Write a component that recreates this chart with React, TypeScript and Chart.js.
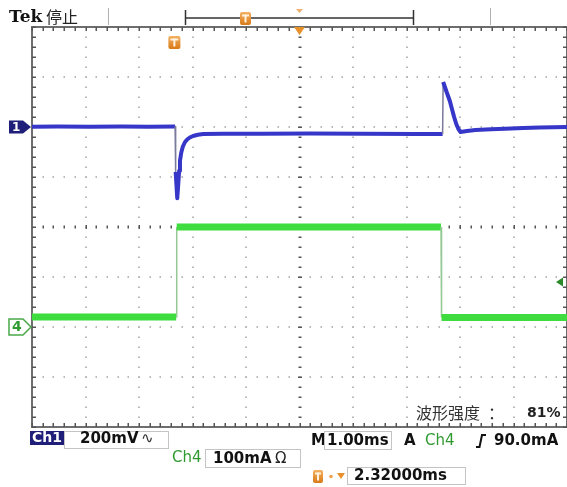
import React, { useEffect, useRef } from "react";
import { Chart, registerables } from "chart.js";
Chart.register(...registerables);

// ---- Horizontal (time) setup ----
const TIME_PER_DIV_MS = 1.0;
const H_CENTER_MS = 2.32; // horizontal delay (trigger -> screen centre)
const H_DIVS = 10;
const V_DIVS = 8;
const TIME_MIN_MS = H_CENTER_MS - (H_DIVS / 2) * TIME_PER_DIV_MS;
const TIME_MAX_MS = H_CENTER_MS + (H_DIVS / 2) * TIME_PER_DIV_MS;

// ---- Channel setup ----
const CH1_MV_PER_DIV = 200;
const CH1_OFFSET_DIV = 2;
const CH4_MA_PER_DIV = 100;
const CH4_OFFSET_DIV = -2;
const TRIGGER_LEVEL_MA = 90;

// ---- Ch1 trace (time in ms relative to trigger, value in mV) ----
const ch1TimeMs = [
  -2.68, -2.2, -1.6, -1.0, -0.5, -0.005,
  0.005, 0.035, 0.05, 0.07, 0.086, 0.11, 0.14, 0.18, 0.22, 0.27, 0.33, 0.42, 0.52, 0.9, 1.6, 2.5, 3.5, 4.5, 4.995,
  5.005, 5.07, 5.13, 5.17, 5.21, 5.25, 5.29, 5.33, 5.45, 5.61, 5.9, 6.16, 6.5, 6.81, 7.32,
];
const ch1mV = [
  1, 2, 1, 2, 1, 2,
  -180, -285, -240, -175, -135, -102, -78, -60, -50, -42, -36, -31, -28, -27, -27, -26, -27, -28, -28,
  180, 140, 104, 72, 40, 12, -8, -20, -16, -12, -9, -7, -4, -2, 0,
];

// ---- Ch4 trace (time in ms, value in mA) ----
const ch4TimeMs = [-2.68, 0.015, 0.025, 4.965, 4.975, 7.32];
const ch4mA = [20, 20, 200, 200, 19, 19];

// ---- Readout texts ----
const HEADER_BRAND = "Tek";
const HEADER_STATE = "停止";
const CH1_LABEL = "Ch1";
const CH1_SCALE_TEXT = "200mV";
const CH4_LABEL = "Ch4";
const CH4_SCALE_TEXT = "100mA";
const TIMEBASE_TEXT = "1.00ms";
const TRIGGER_LEVEL_TEXT = "90.0mA";
const DELAY_TEXT = "2.32000ms";
const INTENSITY_LABEL = "波形强度";
const INTENSITY_COLON = "：";
const INTENSITY_VALUE = "81%";

const NAVY = "#1f1f7a";
const BLUE = "#3636c8";
const GREEN = "#3fdc3f";
const DARK_GREEN = "#2f9a2f";
const ORANGE = "#e8902a";

function orangeT(ctx: CanvasRenderingContext2D, x: number, y: number, w: number, h: number) {
  ctx.save();
  const g = ctx.createLinearGradient(0, y, 0, y + h);
  g.addColorStop(0, "#f4b060");
  g.addColorStop(1, "#d87a18");
  ctx.fillStyle = g;
  ctx.beginPath();
  (ctx as any).roundRect ? (ctx as any).roundRect(x, y, w, h, 2) : ctx.rect(x, y, w, h);
  ctx.fill();
  ctx.fillStyle = "#fff3e0";
  ctx.fillRect(x + 2, y + 2.5, w - 4, 2);
  ctx.fillRect(x + w / 2 - 1, y + 2.5, 2, h - 5);
  ctx.restore();
}

function txt(
  ctx: CanvasRenderingContext2D,
  s: string,
  x: number,
  y: number,
  font: string,
  color: string,
  baseline: CanvasTextBaseline = "middle"
) {
  ctx.font = font;
  ctx.fillStyle = color;
  ctx.textAlign = "left";
  ctx.textBaseline = baseline;
  ctx.fillText(s, x, y);
}

const graticulePlugin = {
  id: "graticule",
  beforeDatasetsDraw(chart: any) {
    const { ctx, chartArea: a, scales } = chart;
    const xs = scales.x;
    const gs = scales.ydiv;
    const xPix = (d: number) => xs.getPixelForValue(H_CENTER_MS + d * TIME_PER_DIV_MS);
    const yPix = (d: number) => gs.getPixelForValue(d);
    ctx.save();
    // dotted interior grid
    ctx.fillStyle = "#b8b8b8";
    for (let k = -H_DIVS / 2 + 1; k < H_DIVS / 2; k++) {
      if (k === 0) continue;
      const px = Math.round(xPix(k));
      for (let m = -V_DIVS / 2; m <= V_DIVS / 2 + 1e-9; m += 0.2) {
        ctx.fillRect(px - 1, Math.round(yPix(m)) - 0.5, 2, 1.5);
      }
    }
    for (let k = -V_DIVS / 2 + 1; k < V_DIVS / 2; k++) {
      if (k === 0) continue;
      const py = Math.round(yPix(k));
      for (let m = -H_DIVS / 2; m <= H_DIVS / 2 + 1e-9; m += 0.2) {
        ctx.fillRect(Math.round(xPix(m)) - 0.5, py - 1, 1.5, 2);
      }
    }
    // centre axes with minor ticks
    ctx.fillStyle = "#555";
    const cx = Math.round(xPix(0));
    const cy = Math.round(yPix(0));
    for (let m = -V_DIVS / 2; m <= V_DIVS / 2 + 1e-9; m += 0.2) {
      const major = Math.abs(m - Math.round(m)) < 1e-6;
      ctx.fillRect(cx - (major ? 2 : 1.5), Math.round(yPix(m)) - 0.5, major ? 4 : 3, 1.5);
    }
    for (let m = -H_DIVS / 2; m <= H_DIVS / 2 + 1e-9; m += 0.2) {
      const major = Math.abs(m - Math.round(m)) < 1e-6;
      ctx.fillRect(Math.round(xPix(m)) - 0.5, cy - (major ? 2 : 1.5), 1.5, major ? 4 : 3);
    }
    // frame with inward ticks
    ctx.strokeStyle = "#6e6e6e";
    ctx.lineWidth = 2;
    ctx.strokeRect(a.left, a.top, a.right - a.left, a.bottom - a.top);
    ctx.fillStyle = "#555";
    for (let m = -H_DIVS / 2; m <= H_DIVS / 2 + 1e-9; m += 0.2) {
      const px = Math.round(xPix(m));
      ctx.fillRect(px - 0.5, a.top, 1.5, 4);
      ctx.fillRect(px - 0.5, a.bottom - 4, 1.5, 4);
    }
    for (let m = -V_DIVS / 2; m <= V_DIVS / 2 + 1e-9; m += 0.2) {
      const py = Math.round(yPix(m));
      ctx.fillRect(a.left, py - 0.5, 4, 1.5);
      ctx.fillRect(a.right - 4, py - 0.5, 4, 1.5);
    }
    ctx.restore();
  },
  afterDraw(chart: any) {
    const { ctx, chartArea: a, scales } = chart;
    const xs = scales.x;
    ctx.save();

    // ---- header ----
    txt(ctx, HEADER_BRAND, 9, 22, "bold 17px 'DejaVu Serif'", "#111", "alphabetic");
    txt(ctx, HEADER_STATE, 46, 23, "16px 'Noto Sans CJK SC'", "#222", "alphabetic");
    ctx.strokeStyle = "#b0b0b0";
    ctx.lineWidth = 1;
    ctx.beginPath();
    ctx.moveTo(108.5, 8); ctx.lineTo(108.5, 25);
    ctx.moveTo(490.5, 8); ctx.lineTo(490.5, 25);
    ctx.stroke();
    ctx.strokeStyle = "#333";
    ctx.lineWidth = 1.5;
    ctx.beginPath();
    ctx.moveTo(185.5, 10); ctx.lineTo(185.5, 25);
    ctx.moveTo(185.5, 18); ctx.lineTo(413.5, 18);
    ctx.moveTo(413.5, 10); ctx.lineTo(413.5, 25);
    ctx.stroke();
    orangeT(ctx, 240, 12, 11, 13);
    ctx.fillStyle = "#f0b070";
    ctx.beginPath();
    ctx.moveTo(296, 9); ctx.lineTo(303, 9); ctx.lineTo(299.5, 13); ctx.closePath();
    ctx.fill();

    // ---- horizontal position marker on top frame ----
    const cxp = xs.getPixelForValue(H_CENTER_MS);
    ctx.fillStyle = ORANGE;
    ctx.beginPath();
    ctx.moveTo(cxp - 5.5, a.top); ctx.lineTo(cxp + 5.5, a.top); ctx.lineTo(cxp, a.top + 8); ctx.closePath();
    ctx.fill();

    // ---- trigger position marker ----
    const tx = xs.getPixelForValue(0);
    orangeT(ctx, tx - 7, 36, 12, 13);

    // ---- Ch1 ground marker ----
    const y1 = scales.ych1.getPixelForValue(0);
    ctx.fillStyle = NAVY;
    ctx.beginPath();
    ctx.moveTo(9, y1 - 6.5); ctx.lineTo(23, y1 - 6.5); ctx.lineTo(31, y1); ctx.lineTo(23, y1 + 6.5); ctx.lineTo(9, y1 + 6.5);
    ctx.closePath();
    ctx.fill();
    txt(ctx, "1", 12, y1 + 0.5, "bold 12px 'DejaVu Sans'", "#fff");

    // ---- Ch4 ground marker ----
    const y4 = scales.ych4.getPixelForValue(0);
    ctx.fillStyle = "#fff";
    ctx.strokeStyle = "#4aa84a";
    ctx.lineWidth = 1.5;
    ctx.beginPath();
    ctx.moveTo(9, y4 - 8); ctx.lineTo(23, y4 - 8); ctx.lineTo(31, y4); ctx.lineTo(23, y4 + 8); ctx.lineTo(9, y4 + 8);
    ctx.closePath();
    ctx.fill();
    ctx.stroke();
    txt(ctx, "4", 12, y4 + 0.5, "bold 14px 'DejaVu Sans'", DARK_GREEN);

    // ---- trigger level marker (right) ----
    const yt = scales.ych4.getPixelForValue(TRIGGER_LEVEL_MA);
    ctx.fillStyle = "#2a8a2a";
    ctx.beginPath();
    ctx.moveTo(556, yt); ctx.lineTo(563, yt - 4.5); ctx.lineTo(563, yt + 4.5); ctx.closePath();
    ctx.fill();

    // ---- intensity readout ----
    txt(ctx, INTENSITY_LABEL, 416, 413, "16px 'Noto Sans CJK SC'", "#333");
    txt(ctx, INTENSITY_COLON, 488, 413, "16px 'Noto Sans CJK SC'", "#333");
    txt(ctx, INTENSITY_VALUE, 527, 413, "bold 14px 'DejaVu Sans'", "#222");

    // ---- bottom readouts ----
    const F = "bold 15px 'DejaVu Sans'";
    ctx.fillStyle = NAVY;
    ctx.fillRect(30, 431, 34, 14);
    txt(ctx, CH1_LABEL, 32, 438.5, "bold 14px 'DejaVu Sans'", "#fff");
    ctx.strokeStyle = "#c4c4c4";
    ctx.lineWidth = 1;
    ctx.strokeRect(64.5, 431.5, 104, 17);
    txt(ctx, CH1_SCALE_TEXT, 80, 439.5, F, "#111");
    txt(ctx, "∿", 141, 439, "15px 'DejaVu Sans'", "#333");

    txt(ctx, "M", 311, 441, F, "#111");
    ctx.strokeRect(324.5, 431.5, 67, 18);
    txt(ctx, TIMEBASE_TEXT, 327, 441, F, "#111");
    txt(ctx, "A", 404, 441, F, "#111");
    txt(ctx, CH4_LABEL, 425, 441, "15px 'DejaVu Sans'", DARK_GREEN);
    ctx.strokeStyle = "#111";
    ctx.lineWidth = 2;
    ctx.beginPath();
    ctx.moveTo(476, 447); ctx.lineTo(479.5, 447); ctx.lineTo(482, 435); ctx.lineTo(486, 435);
    ctx.stroke();
    txt(ctx, TRIGGER_LEVEL_TEXT, 494, 441, F, "#111");

    txt(ctx, CH4_LABEL, 172, 458, "15px 'DejaVu Sans'", DARK_GREEN);
    ctx.strokeStyle = "#c4c4c4";
    ctx.lineWidth = 1;
    ctx.strokeRect(205.5, 449.5, 95, 18);
    txt(ctx, CH4_SCALE_TEXT, 213, 459, F, "#111");
    txt(ctx, "Ω", 275, 459, "15px 'DejaVu Sans'", "#222");

    orangeT(ctx, 313, 470, 10, 13);
    ctx.fillStyle = "#f0a050";
    ctx.beginPath();
    ctx.arc(331, 476.5, 1.8, 0, Math.PI * 2);
    ctx.fill();
    ctx.fillStyle = ORANGE;
    ctx.beginPath();
    ctx.moveTo(337, 473); ctx.lineTo(345, 473); ctx.lineTo(341, 479); ctx.closePath();
    ctx.fill();
    ctx.strokeStyle = "#c4c4c4";
    ctx.strokeRect(347.5, 467.5, 118, 17);
    txt(ctx, DELAY_TEXT, 354, 476.5, F, "#111");

    ctx.restore();
  },
};

function toPoints(xs: number[], ys: number[]) {
  return xs.map((x, i) => ({ x, y: ys[i] }));
}

export default function App() {
  const ref = useRef<HTMLCanvasElement | null>(null);
  useEffect(() => {
    if (!ref.current) return;
    const thin = (c: any) => Math.abs(c.p1.parsed.x - c.p0.parsed.x) < 0.012;
    const chart = new Chart(ref.current, {
      type: "line",
      data: {
        datasets: [
          {
            label: "Ch4",
            data: toPoints(ch4TimeMs, ch4mA),
            yAxisID: "ych4",
            borderColor: GREEN,
            borderWidth: 7,
            pointRadius: 0,
            tension: 0,
            segment: {
              borderWidth: (c: any) => (thin(c) ? 1.5 : 7),
              borderColor: (c: any) => (thin(c) ? "#94c894" : GREEN),
            },
          } as any,
          {
            label: "Ch1",
            data: toPoints(ch1TimeMs, ch1mV),
            yAxisID: "ych1",
            borderColor: BLUE,
            borderWidth: 4,
            pointRadius: 0,
            tension: 0,
            borderJoinStyle: "round",
            segment: {
              borderWidth: (c: any) => (thin(c) ? 1.5 : 4),
              borderColor: (c: any) => (thin(c) ? "#7a7a9c" : BLUE),
            },
          } as any,
        ],
      },
      options: {
        animation: false,
        responsive: false,
        devicePixelRatio: 1,
        layout: { padding: { left: 32, top: 27, right: 0, bottom: 60 } },
        plugins: { legend: { display: false }, title: { display: false }, tooltip: { enabled: false } },
        events: [],
        scales: {
          x: { type: "linear", axis: "x", position: "bottom", display: false, min: TIME_MIN_MS, max: TIME_MAX_MS },
          ych1: {
            type: "linear",
            axis: "y",
            position: "left",
            display: false,
            min: (-V_DIVS / 2 - CH1_OFFSET_DIV) * CH1_MV_PER_DIV,
            max: (V_DIVS / 2 - CH1_OFFSET_DIV) * CH1_MV_PER_DIV,
          },
          ych4: {
            type: "linear",
            axis: "y",
            position: "left",
            display: false,
            min: (-V_DIVS / 2 - CH4_OFFSET_DIV) * CH4_MA_PER_DIV,
            max: (V_DIVS / 2 - CH4_OFFSET_DIV) * CH4_MA_PER_DIV,
          },
          ydiv: { type: "linear", axis: "y", position: "left", display: false, min: -V_DIVS / 2, max: V_DIVS / 2 },
        },
      } as any,
      plugins: [graticulePlugin],
    });
    return () => chart.destroy();
  }, []);
  return (
    <div style={{ position: "fixed", left: 0, top: 0, width: 567, height: 487, background: "#fff" }}>
      <canvas ref={ref} width={567} height={487} style={{ display: "block" }} />
    </div>
  );
}
